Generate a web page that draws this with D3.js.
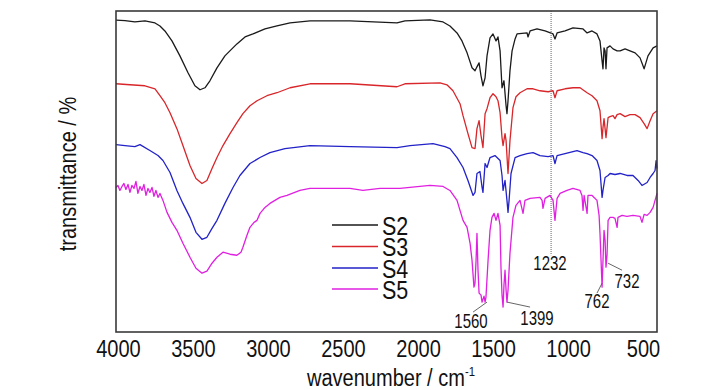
<!DOCTYPE html>
<html><head><meta charset="utf-8">
<script src="https://cdn.jsdelivr.net/npm/d3@7"></script>
<style>
body{margin:0;background:#fff}
svg{display:block}
text{font-family:"Liberation Sans",Arial,sans-serif;fill:#111}
</style></head><body>
<svg id="chart" width="728" height="390"></svg>
<script>
// ---- data (wavenumber cm^-1, transmittance in arbitrary offset units) ----
const seriesNames = ["S2", "S3", "S4", "S5"];
const seriesColors = ["#1a1a1a", "#d8262a", "#2222c8", "#e020e0"];
const xTickValues = [4000, 3500, 3000, 2500, 2000, 1500, 1000, 500];

const s2 = [[4013,156.4],[3953,156.2],[3887,155.5],[3820,156],[3753,155],[3720,153.5],[3687,151],[3640,146],[3587,138.5],[3533,130],[3487,123.5],[3453,121.5],[3420,122.5],[3387,126],[3340,132.5],[3287,138.5],[3207,144.5],[3153,148],[3100,149.5],[3020,152],[2940,153.5],[2853,155],[2720,156],[2453,156],[2140,155],[2087,156],[1920,156.5],[1833,155.5],[1787,153.5],[1740,150],[1707,146],[1673,140],[1640,132.5],[1620,131],[1607,133],[1593,135],[1580,128.5],[1567,123.5],[1553,127.5],[1540,138.5],[1520,147.5],[1500,149.5],[1480,146],[1467,148],[1453,141],[1440,122.5],[1427,126],[1413,113.5],[1407,109.5],[1400,116],[1387,131],[1373,141],[1353,147],[1340,149.5],[1273,150],[1267,148],[1253,151],[1207,152],[1153,151],[1100,149.5],[1087,147],[1073,150],[1020,151],[967,152.5],[900,152],[873,150],[840,151],[807,149.5],[787,146],[773,136],[767,132],[760,142.5],[753,141],[747,132],[740,142.5],[720,143.5],[700,142],[673,141],[653,141],[620,142],[587,141],[553,140],[520,137.5],[493,132],[467,138.5],[433,142.5],[407,143.5]];

const s3 = [[4013,124.5],[3920,124],[3820,123.5],[3753,122],[3720,118.5],[3687,115],[3653,110],[3607,102],[3567,93.5],[3520,83.5],[3480,77],[3440,74.5],[3407,76],[3373,82],[3340,87.5],[3300,93.5],[3253,99.5],[3207,105],[3167,109.5],[3120,113.5],[3073,116],[3007,118.5],[2940,120],[2853,122.5],[2720,124.5],[2453,124.5],[2140,123],[2087,124.5],[1853,125],[1807,124],[1767,121],[1720,114.5],[1700,108.5],[1667,99.5],[1640,92.5],[1620,92],[1607,102],[1593,106],[1580,98.5],[1567,92.5],[1553,109.5],[1540,112],[1520,117.5],[1500,119.5],[1480,118],[1467,116],[1453,110],[1440,97.5],[1433,93.5],[1420,99.5],[1413,96],[1400,79.5],[1387,96],[1367,112.5],[1347,118],[1320,120],[1273,122],[1233,122],[1187,121],[1133,120.5],[1100,121],[1087,117.5],[1073,121],[1020,122],[967,122.5],[920,122.5],[873,120],[840,118.5],[807,116],[787,111],[773,97],[767,102.5],[760,107],[747,97.5],[733,107.5],[720,108],[700,108.5],[687,107],[673,109],[653,109.5],[620,108],[587,109],[553,109],[520,107.5],[493,104.5],[473,102],[453,106],[433,109.5],[407,111]];

const s4 = [[4013,94],[3953,93.5],[3887,93],[3853,94],[3787,91],[3733,88.5],[3700,86],[3653,80],[3607,71],[3567,64.5],[3520,57.5],[3480,50],[3440,46.5],[3407,47.5],[3373,52],[3340,56],[3287,64.5],[3233,72.5],[3187,78.5],[3120,84.5],[3053,87.5],[2987,90],[2887,92],[2720,93.5],[2453,93],[2140,92.5],[2053,93.5],[1900,94.5],[1820,93],[1787,92],[1740,87.5],[1700,82.5],[1667,76],[1633,68.5],[1620,70],[1607,79.5],[1587,80.5],[1573,72.5],[1567,70],[1553,84.5],[1540,82.5],[1520,87.5],[1487,88.5],[1453,86],[1440,78.5],[1433,71],[1420,76],[1407,66],[1400,60],[1393,66],[1380,79.5],[1353,87.5],[1320,88.5],[1273,89.5],[1233,90],[1187,88.5],[1133,88],[1100,88.5],[1087,84.5],[1073,88.5],[1020,89.5],[940,91],[900,90],[873,89.5],[840,88.5],[807,86],[787,81],[773,67.5],[767,71],[753,77.5],[733,78.5],[720,79.5],[687,79],[653,79.5],[607,78.5],[567,78.5],[533,76],[507,73.5],[473,75],[453,77.5],[433,79.5],[420,81],[413,86],[407,82]];

const s5 = [[4013,72.5],[4000,73.5],[3987,71],[3973,73],[3960,74.5],[3947,71.5],[3933,74],[3920,70],[3907,73.5],[3893,72],[3880,75.5],[3867,69.5],[3853,73],[3840,71],[3827,74],[3813,68.5],[3800,72],[3787,70],[3773,72.5],[3760,68],[3747,71],[3733,67.5],[3720,69.5],[3700,66],[3673,60],[3640,55],[3607,51],[3567,44.5],[3520,37.5],[3480,32],[3440,29.5],[3407,30.5],[3373,34.5],[3340,37.5],[3300,40],[3253,39],[3207,38.5],[3180,40],[3167,42.5],[3140,48.5],[3120,52.5],[3093,55],[3073,56],[3053,59.5],[3020,62.5],[2987,64.5],[2920,67.5],[2873,68.5],[2787,71],[2720,72],[2453,72],[2367,71],[2253,72],[2120,72],[1920,73.5],[1833,73],[1787,71],[1740,66],[1700,56],[1673,52.5],[1653,44.5],[1640,36],[1627,22.5],[1620,24.5],[1613,36],[1607,49.5],[1600,31],[1593,19.5],[1580,18.5],[1573,15],[1560,18],[1553,15],[1547,17.5],[1533,36],[1520,51],[1507,57.5],[1493,59.5],[1480,56],[1467,59.5],[1453,53.5],[1447,32.5],[1440,18.5],[1433,12.5],[1427,23.5],[1420,31],[1413,21],[1407,15],[1400,21],[1387,39.5],[1367,57.5],[1347,63.5],[1320,66],[1300,59.5],[1287,66],[1253,67],[1187,67.5],[1173,66],[1167,62],[1153,67],[1120,68.5],[1100,66],[1087,56],[1073,67],[1053,69.5],[1007,71],[967,72],[920,71],[907,68.5],[900,61],[893,68.5],[873,59.5],[867,68.5],[840,68.5],[807,66],[793,58.5],[787,49.5],[780,36],[773,22.5],[767,36],[760,51],[753,46],[747,32.5],[740,38.5],[733,56],[720,57.5],[700,57.5],[687,57],[673,52.5],[667,57.5],[640,58.5],[607,58],[567,58.5],[520,58],[507,55],[493,59],[473,58.5],[453,60],[433,62.5],[420,66],[407,69.5]];

const seriesData = [s2, s3, s4, s5];

// annotations: label, text anchor point [wn, T], leader line [[wn,T],[wn,T]]
const annoLabels = ["1560", "1399", "762", "732"];
const annoText = [[1647, 2], [1207, 3.5], [807, 12], [607, 22]];
const annoLeader = [[[1633, 10], [1540, 15]], [[1407, 15], [1253, 12.5]], [[773, 24.5], [807, 19.5]], [[733, 34.5], [640, 31]]];
const markerLabel = "1232";
const markerWn = 1113;
const markerBottom = 38.5;
const markerText = [1120, 31];

// ---- drawing ----
const svg = d3.select("#chart");
const pL = 116, pR = 657, pT = 11, pB = 332;
const x = d3.scaleLinear().domain([4013, 407]).range([pL, pR]);
const y = d3.scaleLinear().domain([0, 161]).range([pB, pT]);

// place a horizontally condensed text (the reference uses a narrow face)
function ctext(parent, px, py, str, size, f, anchor, rot) {
  return parent.append("text")
    .attr("transform", `translate(${px},${py})${rot ? " rotate(" + rot + ")" : ""} scale(${f},1)`)
    .attr("text-anchor", anchor || "middle").attr("font-size", size).text(str);
}

const line = d3.line().x(d => x(d[0])).y(d => y(d[1]));

const g = svg.append("g");
seriesData.forEach((s, i) => {
  g.append("path").datum(s).attr("d", line)
    .attr("fill", "none").attr("stroke", seriesColors[i])
    .attr("stroke-width", 1.3).attr("stroke-linejoin", "round");
});

// dotted marker
svg.append("line")
  .attr("x1", x(markerWn)).attr("x2", x(markerWn))
  .attr("y1", pT).attr("y2", y(markerBottom))
  .attr("stroke", "#666").attr("stroke-width", 1).attr("stroke-dasharray", "1,1");
ctext(svg, x(markerText[0]), y(markerText[1]), markerLabel, 20, 0.75);

annoLabels.forEach((lab, i) => {
  svg.append("line")
    .attr("x1", x(annoLeader[i][0][0])).attr("y1", y(annoLeader[i][0][1]))
    .attr("x2", x(annoLeader[i][1][0])).attr("y2", y(annoLeader[i][1][1]))
    .attr("stroke", "#555").attr("stroke-width", 0.9);
  ctext(svg, x(annoText[i][0]), y(annoText[i][1]), lab, 20, 0.75);
});

// frame
svg.append("rect").attr("x", pL).attr("y", pT)
  .attr("width", pR - pL).attr("height", pB - pT)
  .attr("fill", "none").attr("stroke", "#3a3a3a").attr("stroke-width", 1.6);

// x axis labels
const ax = svg.append("g").attr("transform", `translate(0,${pB})`)
  .call(d3.axisBottom(x).tickValues(xTickValues).tickSize(0).tickPadding(25).tickFormat(d3.format("d")));
ax.select(".domain").remove();
ax.selectAll("text").attr("font-size", 23).attr("fill", "#111")
  .attr("font-family", "'Liberation Sans',Arial,sans-serif")
  .attr("dy", 0).attr("transform", "scale(0.87,1)");

// axis titles
const xt = ctext(svg, 391, 386, null, 23, 0.87);
xt.append("tspan").text("wavenumber / cm");
xt.append("tspan").attr("dy", -10).attr("font-size", 13).text("-1");

ctext(svg, 76, 174, "transmittance / %", 23, 0.87, "middle", -90);

// legend
const legY = [225, 246.5, 268, 289];
seriesNames.forEach((n, i) => {
  svg.append("line").attr("x1", 332).attr("x2", 378).attr("y1", legY[i]).attr("y2", legY[i])
    .attr("stroke", seriesColors[i]).attr("stroke-width", 1.3);
  ctext(svg, 382, legY[i] + 9.5, n, 25, 0.86, "start");
});
</script>
</body></html>
